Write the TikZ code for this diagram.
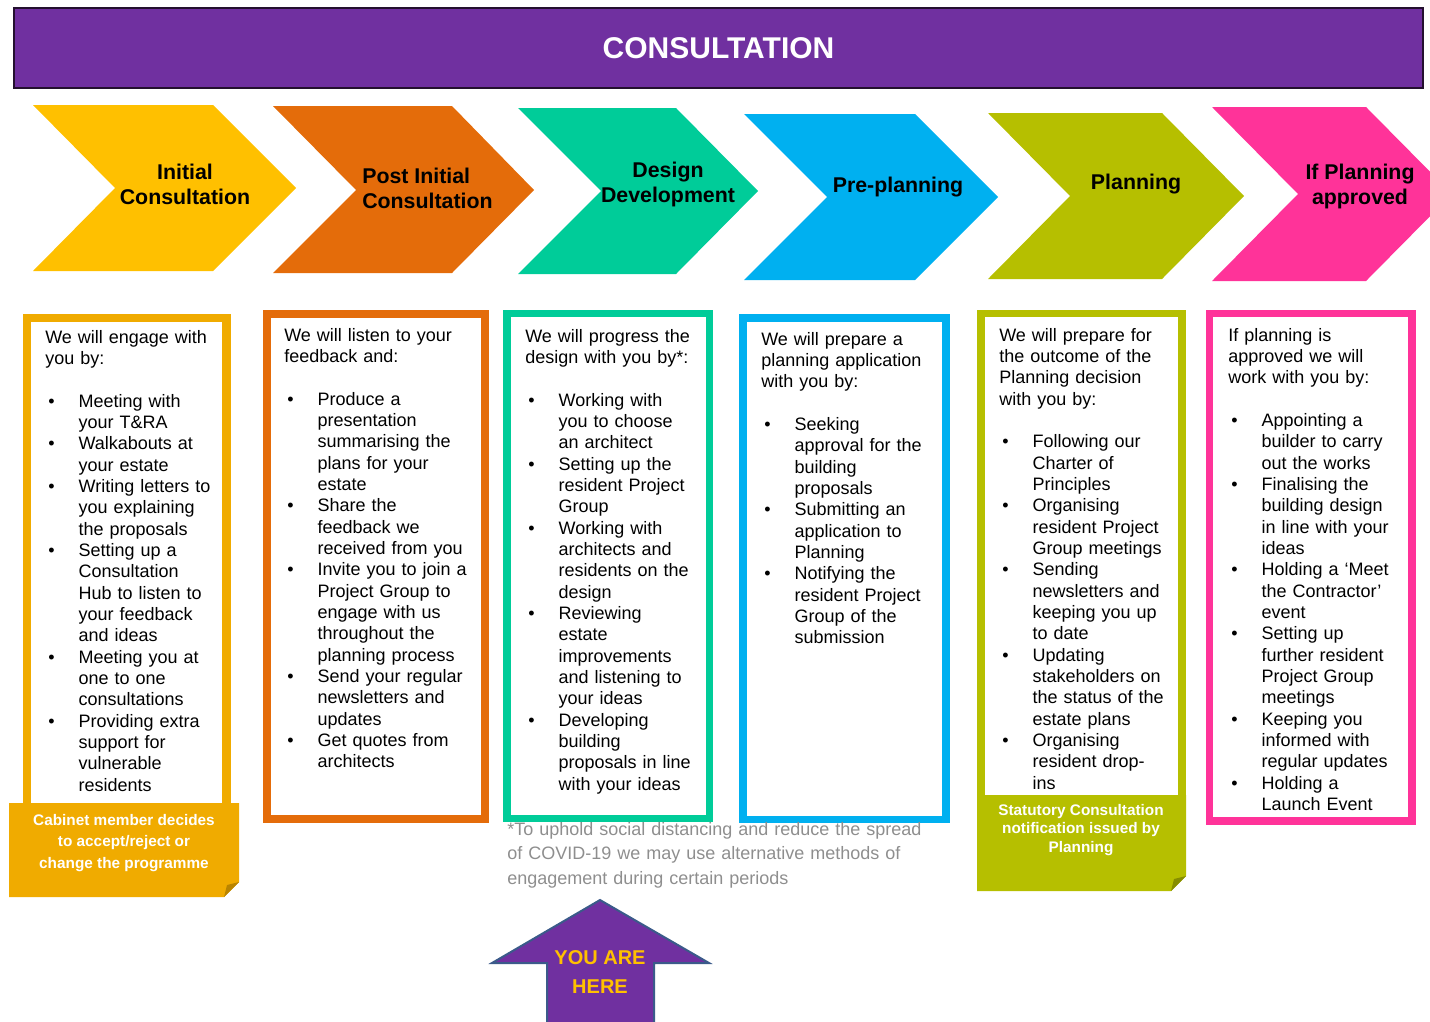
\documentclass[tikz,border=0pt]{standalone}
\usepackage{fontspec}
\setmainfont{Liberation Sans}
\definecolor{hdr}{HTML}{7030A0}
\definecolor{hdrline}{HTML}{24102F}
\definecolor{cyel}{HTML}{FFC000}
\definecolor{camb}{HTML}{F0AB00}
\definecolor{cambd}{HTML}{B98400}
\definecolor{corg}{HTML}{E46C0A}
\definecolor{cteal}{HTML}{00CC99}
\definecolor{cblue}{HTML}{00B0F0}
\definecolor{coli}{HTML}{B6BF00}
\definecolor{colid}{HTML}{868D00}
\definecolor{cpink}{HTML}{FF3399}
\definecolor{arrline}{HTML}{3B5A8A}
\definecolor{fnote}{HTML}{8E8E8E}
\newlength\bhang \setlength\bhang{25pt}
\newcommand\bitem[1]{\par\noindent\hangindent=\bhang\hangafter=1\makebox[\bhang][l]{\hspace{2.25pt}\textbullet}#1\par}
\newcommand\gapline{\par\vspace{16pt}}
\tikzset{
  body/.style={anchor=base west, inner sep=0pt, text width=150pt, align=left,
    font=\fontsize{13.5}{16}\selectfont, text=black},
  chevtext/.style={font=\bfseries\fontsize{16}{18.75}\selectfont, align=center, inner sep=0pt, text=black},
  notetext/.style={font=\bfseries\fontsize{11.5}{16}\selectfont, text=white, align=center, inner sep=0pt},
}
\begin{document}
\begin{tikzpicture}[x=0.75pt,y=-0.75pt]
\useasboundingbox (0,0) rectangle (1430,1021);
\clip (0,0) rectangle (1430,1021);
% header
\node[draw=hdrline, line width=1.5pt, fill=hdr, minimum width=1409*0.75pt, minimum height=80*0.75pt, inner sep=0pt,
  font=\bfseries\fontsize{22.5}{26}\selectfont, text=white] (hdr) at (718.5,48) {CONSULTATION};
% chevrons
\fill[cyel]  (33,105) -- (213,105) -- (296,188) -- (213,271) -- (33,271) -- (115,188) -- cycle;
\fill[corg]  (273,106) -- (452,106) -- (534,190) -- (452,273) -- (273,273) -- (356,190) -- cycle;
\fill[cteal] (518,108) -- (676,108) -- (758,191) -- (676,274) -- (518,274) -- (601,191) -- cycle;
\fill[cblue] (744,114) -- (915,114) -- (998,197) -- (915,280) -- (744,280) -- (827,197) -- cycle;
\fill[coli]  (988,113) -- (1162,113) -- (1244,196) -- (1162,279) -- (988,279) -- (1070,196) -- cycle;
\fill[cpink] (1212,107) -- (1366,107) -- (1452,194) -- (1366,281) -- (1212,281) -- (1298,194) -- cycle;
\node[chevtext] (c1) at (185,184) {Initial\\Consultation};
\node[chevtext, align=left, anchor=west] (c2) at (362,188.5) {Post Initial\\Consultation};
\node[chevtext] (c3) at (668,184.5) {Design\\Development};
\node[chevtext] (c4) at (898,187) {Pre-planning};
\node[chevtext] (c5) at (1136,184) {Planning};
\node[chevtext] (c6) at (1360,186.5) {If Planning\\approved};
% box frames
\fill[camb] (23,314) rectangle (231,806);
\fill[white] (31,322) rectangle (222,803);
\fill[corg] (263,310) rectangle (489,823);
\fill[white] (271,318) rectangle (481,815);
\fill[cteal] (503,310) rectangle (713,822);
\fill[white] (511,317) rectangle (706,815);
\fill[cblue] (739,314) rectangle (950,823);
\fill[white] (747,322) rectangle (942,816);
\fill[coli] (977,310) rectangle (1186,800);
\fill[white] (985,317) rectangle (1178,795);
\fill[cpink] (1206,310) rectangle (1416,825);
\fill[white] (1213,317) rectangle (1408,817);
% note boxes with folded corner
\fill[camb] (9,803) -- (239,803) -- (239,882) -- (224,897) -- (9,897) -- cycle;
\fill[cambd] (239,882) -- (224,897) -- (227,885) -- cycle;
\fill[coli] (977,795) -- (1186,795) -- (1186,876) -- (1171,891) -- (977,891) -- cycle;
\fill[colid] (1186,876) -- (1171,891) -- (1174,879) -- cycle;
\node[notetext] (n1) at (124,843) {Cabinet member decides\\to accept/reject or\\change the programme};
\node[notetext, font=\bfseries\fontsize{11.5}{14}\selectfont] (n5) at (1081,830) {Statutory Consultation\\notification issued by\\Planning};
% box texts
\node[body] (t1) at (45,343) {We will engage with\newline you by:\gapline
\bitem{Meeting with\newline your T\&RA}
\bitem{Walkabouts at\newline your estate}
\bitem{Writing letters to\newline you explaining\newline the proposals}
\bitem{Setting up a\newline Consultation\newline Hub to listen to\newline your feedback\newline and ideas}
\bitem{Meeting you at\newline one to one\newline consultations}
\bitem{Providing extra\newline support for\newline vulnerable\newline residents}};
\node[body] (t2) at (284,341) {We will listen to your\newline feedback and:\gapline
\bitem{Produce a\newline presentation\newline summarising the\newline plans for your\newline estate}
\bitem{Share the\newline feedback we\newline received from you}
\bitem{Invite you to join a\newline Project Group to\newline engage with us\newline throughout the\newline planning process}
\bitem{Send your regular\newline newsletters and\newline updates}
\bitem{Get quotes from\newline architects}};
\node[body] (t3) at (525,342) {We will progress the\newline design with you by*:\gapline
\bitem{Working with\newline you to choose\newline an architect}
\bitem{Setting up the\newline resident Project\newline Group}
\bitem{Working with\newline architects and\newline residents on the\newline design}
\bitem{Reviewing\newline estate\newline improvements\newline and listening to\newline your ideas}
\bitem{Developing\newline building\newline proposals in line\newline with your ideas}};
\node[body] (t4) at (761,345) {We will prepare a\newline planning application\newline with you by:\gapline
\bitem{Seeking\newline approval for the\newline building\newline proposals}
\bitem{Submitting an\newline application to\newline Planning}
\bitem{Notifying the\newline resident Project\newline Group of the\newline submission}};
\node[body] (t5) at (999,341) {We will prepare for\newline the outcome of the\newline Planning decision\newline with you by:\gapline
\bitem{Following our\newline Charter of\newline Principles}
\bitem{Organising\newline resident Project\newline Group meetings}
\bitem{Sending\newline newsletters and\newline keeping you up\newline to date}
\bitem{Updating\newline stakeholders on\newline the status of the\newline estate plans}
\bitem{Organising\newline resident drop-\newline ins}};
\node[body] (t6) at (1228,341) {If planning is\newline approved we will\newline work with you by:\gapline
\bitem{Appointing a\newline builder to carry\newline out the works}
\bitem{Finalising the\newline building design\newline in line with your\newline ideas}
\bitem{Holding a `Meet\newline the Contractor'\newline event}
\bitem{Setting up\newline further resident\newline Project Group\newline meetings}
\bitem{Keeping you\newline informed with\newline regular updates}
\bitem{Holding a\newline Launch Event}};
% footnote
\node[body, text width=320pt, text=fnote, font=\fontsize{13.5}{18.5}\selectfont] (fn) at (507,835)
 {*To uphold social distancing and reduce the spread\newline of COVID-19 we may use alternative methods of\newline engagement during certain periods};
% you are here arrow
\draw[fill=hdr, draw=arrline, line width=1.5pt] (600,900) -- (709,963) -- (654,963) -- (654,1030) -- (547,1030) -- (547,963) -- (492,963) -- cycle;
\node[font=\bfseries\fontsize{15}{22}\selectfont, text=cyel, align=center, inner sep=0pt] (here) at (600,972) {YOU ARE\\HERE};
\end{tikzpicture}
\end{document}
